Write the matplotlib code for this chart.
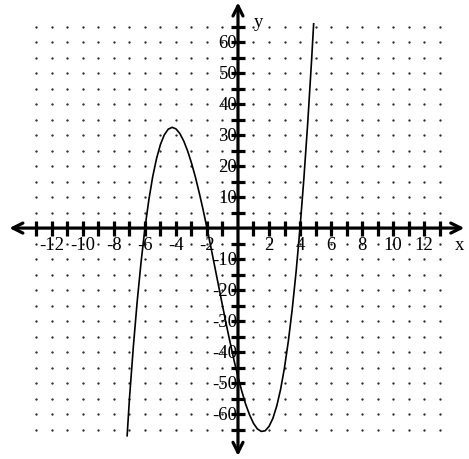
import matplotlib
matplotlib.use("Agg")
import matplotlib.pyplot as plt
import numpy as np

# curve points
curve_x = [-7.15, -7.0, -6.75, -6.5, -6.25, -6.0, -5.75, -5.5, -5.25, -5.0, -4.75, -4.5,
           -4.25, -4.0, -3.75, -3.5, -3.25, -3.0, -2.75, -2.5, -2.25, -2.0, -1.75, -1.5,
           -1.25, -1.0, -0.75, -0.5, -0.25, 0.0, 0.25, 0.5, 0.75, 1.0, 1.25, 1.5,
           1.75, 2.0, 2.25, 2.5, 2.75, 3.0, 3.25, 3.5, 3.75, 4.0, 4.25, 4.5, 4.75, 4.88]
curve_y = [-67.0, -55.0, -38.3, -23.6, -10.9, 0.0, 9.1, 16.6, 22.5, 27.0, 30.1, 31.9,
           32.5, 32.0, 30.5, 28.1, 24.9, 21.0, 16.5, 11.4, 5.9, 0.0, -6.1, -12.4,
           -18.7, -25.0, -31.2, -37.1, -42.8, -48.0, -52.7, -56.9, -60.3, -63.0, -64.8, -65.6,
           -65.4, -64.0, -61.4, -57.4, -52.0, -45.0, -36.4, -26.1, -14.0, 0.0, 16.0, 34.1, 54.4, 65.9]

x_ticks = [t for t in range(-13, 14) if t != 0]
y_ticks = [t for t in range(-65, 70, 5) if t != 0]
x_labels = [-12, -10, -8, -6, -4, -2, 2, 4, 6, 8, 10, 12]
y_labels = [-60, -50, -40, -30, -20, -10, 10, 20, 30, 40, 50, 60]

serif = "Liberation Serif"

fig = plt.figure(figsize=(4.69, 4.60), dpi=100)
ax = fig.add_axes([0, 0, 1, 1])
ax.set_xlim(-15.35, 14.9)
ax.set_ylim(-74.5, 73.9)
ax.axis("off")

# dot grid
gx, gy = np.meshgrid(np.arange(-13, 14), np.arange(-65, 70, 5))
ax.plot(gx.ravel(), gy.ravel(), linestyle="none", marker=".", markersize=1.3,
        color="#222222", zorder=1)

# axes with arrows
ax.annotate("", xy=(14.6, 0), xytext=(-14.75, 0),
            arrowprops=dict(arrowstyle="<->", lw=2.3, color="black", mutation_scale=18,
                            shrinkA=0, shrinkB=0), zorder=3)
ax.annotate("", xy=(0, 72.8), xytext=(0, -73.5),
            arrowprops=dict(arrowstyle="<->", lw=2.3, color="black", mutation_scale=18,
                            shrinkA=0, shrinkB=0), zorder=3)

# ticks
ax.vlines(x_ticks, -2.4, 2.4, color="black", lw=2.3, zorder=3)
ax.hlines(y_ticks, -0.48, 0.48, color="black", lw=2.3, zorder=3)

# tick labels
for v in x_labels:
    ax.text(v, -5.3, str(v), ha="center", va="center", fontsize=13.5,
            family=serif, zorder=4)
for v in y_labels:
    ax.text(-0.05, v, str(v), ha="right", va="center", fontsize=13.5,
            family=serif, zorder=4)

ax.text(14.3, -5.3, "x", ha="center", va="center", fontsize=13.5, family=serif)
ax.text(1.3, 66.8, "y", ha="center", va="center", fontsize=13.5, family=serif)

# the curve
ax.plot(curve_x, curve_y, color="black", lw=1.2, zorder=2)

fig.savefig("out.png", dpi=100)
